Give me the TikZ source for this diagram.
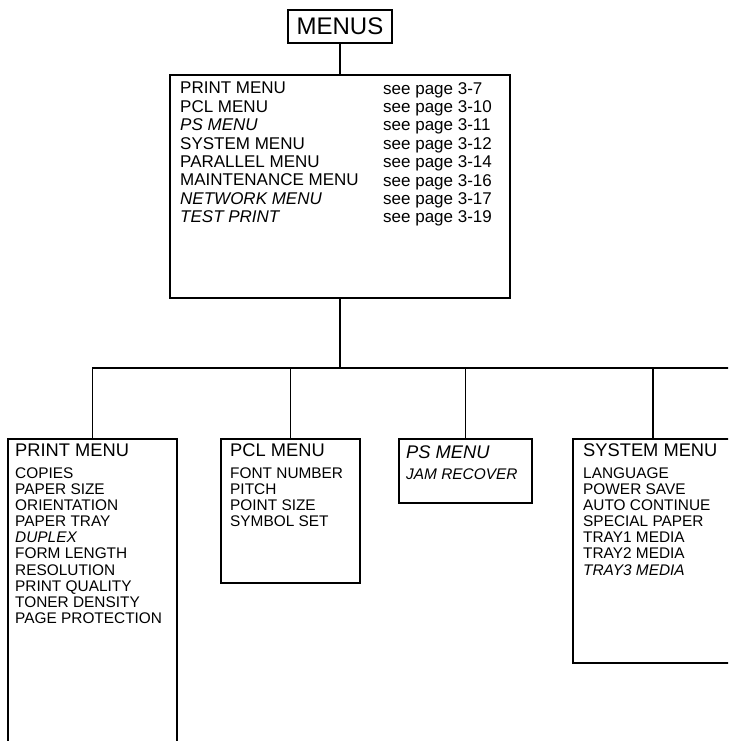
\documentclass[tikz,border=0pt]{standalone}
\usepackage{fontspec}
\setmainfont{Liberation Sans}

\begin{document}
\begin{tikzpicture}[
  x=1pt, y=-1pt,
  box/.style={draw,line width=1.8pt,inner sep=0pt,outer sep=0pt,anchor=north west},
  link/.style={line width=1.8pt},
  txt/.style={inner sep=0pt,anchor=north west,align=left},
  maintxt/.style={txt,font=\fontsize{17}{18.4}\selectfont},
  headtxt/.style={txt,font=\fontsize{18.3}{20}\selectfont},
  itemtxt/.style={txt,font=\fontsize{15.4}{16.1}\selectfont}
]
  \clip (0,0) rectangle (728,741);

  % top of the tree
  \node[box,minimum width=104,minimum height=33,font=\fontsize{24}{24}\selectfont] (menus) at (288,10) {MENUS};
  \node[box,minimum width=340,minimum height=223] (main) at (170,75) {};
  \node[maintxt] (mainl) at (180,82) {PRINT MENU\\PCL MENU\\\textit{PS MENU}\\SYSTEM MENU\\PARALLEL MENU\\MAINTENANCE MENU\\\textit{NETWORK MENU}\\\textit{TEST PRINT}};
  \node[maintxt] (mainr) at (383,82) {see page 3-7\\see page 3-10\\see page 3-11\\see page 3-12\\see page 3-14\\see page 3-16\\see page 3-17\\see page 3-19};

  % sub menus
  \node[box,minimum width=169,minimum height=330] (print) at (8,439) {};
  \node[box,minimum width=139,minimum height=144] (pcl) at (221,439) {};
  \node[box,minimum width=133,minimum height=64] (ps) at (399,439) {};
  \node[box,minimum width=160,minimum height=224] (sys) at (573,439) {};

  \node[headtxt] (printh) at (15,443.5) {PRINT MENU};
  \node[itemtxt] (printi) at (15,467.5) {COPIES\\PAPER SIZE\\ORIENTATION\\PAPER TRAY\\\textit{DUPLEX}\\FORM LENGTH\\RESOLUTION\\PRINT QUALITY\\TONER DENSITY\\PAGE PROTECTION};
  \node[headtxt] (pclh) at (230,443.5) {PCL MENU};
  \node[itemtxt] (pcli) at (230,467.5) {FONT NUMBER\\PITCH\\POINT SIZE\\SYMBOL SET};
  \node[headtxt] (psh) at (406,445.5) {\textit{PS MENU}};
  \node[itemtxt] (psi) at (406,468.5) {\textit{JAM RECOVER}};
  \node[headtxt] (sysh) at (583,443.5) {SYSTEM MENU};
  \node[itemtxt] (sysi) at (583,467.5) {LANGUAGE\\POWER SAVE\\AUTO CONTINUE\\SPECIAL PAPER\\TRAY1 MEDIA\\TRAY2 MEDIA\\\textit{TRAY3 MEDIA}};

  % connectors
  \coordinate (bus) at (340,368);
  \coordinate (busend) at (740,368);
  \draw[link] (menus.south) -- (main.north);
  \draw[link] (main.south) -- (bus);
  \draw[link] (print.north) |- (busend);
  \draw[link] (pcl.north) -- (pcl.north |- bus);
  \draw[link] (ps.north) -- (ps.north |- bus);
  \draw[link] (sys.north) -- (sys.north |- bus);
\end{tikzpicture}
\end{document}
